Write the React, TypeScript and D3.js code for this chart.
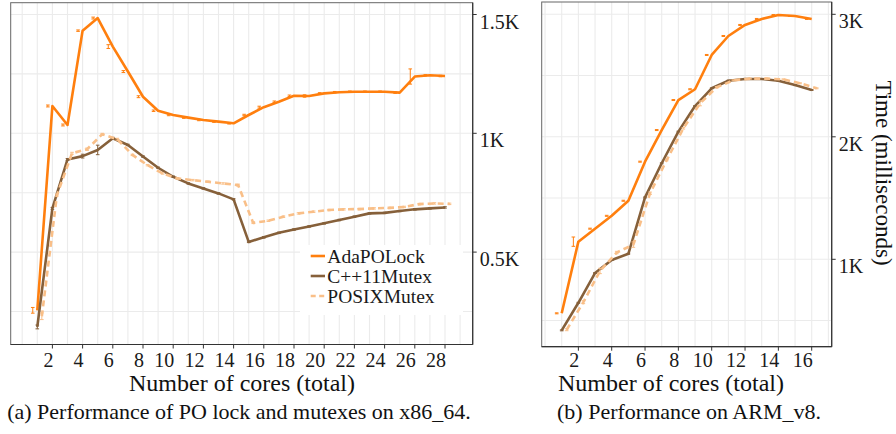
import React from "react";
import * as d3 from "d3";

// ---------- data ----------
const coresA = d3.range(1, 29); // 1..28
const adaA = [255, 1115, 1035, 1432, 1485, 1365, 1260, 1154, 1095, 1077, 1066, 1056, 1049, 1042, 1077, 1110, 1133, 1158, 1157, 1168, 1173, 1175, 1175, 1175, 1171, 1239, 1244, 1241];
const cppA = [185, 684, 890, 904, 930, 979, 951, 902, 855, 817, 789, 768, 747, 722, 543, 562, 581, 595, 608, 621, 635, 649, 663, 665, 673, 680, 684, 688];
const posixA = [230, 740, 916, 933, 996, 975, 909, 866, 831, 810, 803, 796, 789, 782, 623, 632, 649, 663, 670, 677, 680, 681, 684, 686, 690, 702, 705, 703];
const adaErrA = [12, 4, 4, 3, 4, 8, 4, 4, 3, 3, 3, 3, 3, 3, 3, 4, 3, 3, 5, 3, 3, 3, 3, 3, 3, 32, 3, 3];
const cppErrA = [8, 4, 4, 8, 20, 4, 3, 3, 3, 3, 3, 3, 3, 3, 3, 3, 3, 3, 3, 3, 3, 3, 3, 3, 3, 3, 3, 3];
const posixErrA = [14, 4, 4, 5, 4, 4, 3, 3, 3, 3, 3, 3, 3, 4, 3, 3, 3, 3, 3, 3, 3, 3, 3, 3, 3, 3, 3, 3];

const coresB = d3.range(1, 17); // 1..16
const adaB = [559, 1144, 1250, 1355, 1478, 1797, 2055, 2300, 2388, 2668, 2823, 2913, 2962, 2994, 2986, 2962];
const cppB = [420, 645, 888, 994, 1045, 1505, 1784, 2042, 2251, 2396, 2458, 2472, 2472, 2458, 2422, 2382];
const posixB = [425, 650, 905, 1055, 1120, 1539, 1810, 2069, 2273, 2404, 2461, 2475, 2475, 2469, 2437, 2396];
const adaErrB = [4, 38, 4, 4, 4, 4, 4, 4, 4, 4, 4, 4, 4, 4, 4, 4];
const cppErrB = [4, 4, 4, 4, 4, 4, 4, 4, 4, 4, 4, 4, 4, 4, 4, 4];
const posixErrB = [8, 12, 22, 10, 22, 10, 6, 6, 20, 6, 4, 4, 4, 4, 4, 4];

const xTicksA = d3.range(2, 29, 2);
const xTicksB = d3.range(2, 17, 2);
const yTicksA = [500, 1000, 1500];
const yTickLabelsA = ["0.5K", "1K", "1.5K"];
const yTicksB = [1000, 2000, 3000];
const yTickLabelsB = ["1K", "2K", "3K"];
const yGridA = [250, 500, 750, 1000, 1250, 1500];
const yGridB = [500, 1000, 1500, 2000, 2500, 3000];

const seriesNames = ["AdaPOLock", "C++11Mutex", "POSIXMutex"];
const colors = ["#FF7F0E", "#86603A", "#F9BF88"];

const xTitle = "Number of cores (total)";
const yTitle = "Time (milliseconds)";
const captionA = "(a) Performance of PO lock and mutexes on x86_64.";
const captionB = "(b) Performance on ARM_v8.";

const FONT = "Liberation Serif, DejaVu Serif, serif";
const tstyle = { fontFamily: FONT };

type PanelProps = {
  cores: number[];
  series: number[][];
  errs: number[][];
  xDomain: [number, number];
  xRange: [number, number];
  yDomain: [number, number];
  yRange: [number, number];
  frame: [number, number, number, number]; // left, right, top, bottom
  xTicks: number[];
  yTicks: number[];
  yLabels: string[];
  yGrid: number[];
  gridCores: number[];
};

function Panel(p: PanelProps) {
  const x = d3.scaleLinear().domain(p.xDomain).range(p.xRange);
  const y = d3.scaleLinear().domain(p.yDomain).range(p.yRange);
  const [x0, x1, yt, yb] = p.frame;
  const dodgeLine = [0, 0, 0.3];
  const dodgeErr = [-0.3, 0, 0.3];
  const dashes = [undefined, undefined, "6,4"];
  return (
    <g>
      {p.gridCores.map((c) => (
        <line key={"gx" + c} x1={x(c)} x2={x(c)} y1={yt} y2={yb} stroke="#EBEBEB" strokeWidth={1.1} />
      ))}
      {p.yGrid.map((v) => (
        <line key={"gy" + v} x1={x0} x2={x1} y1={y(v)} y2={y(v)} stroke="#EBEBEB" strokeWidth={1.1} />
      ))}
      {p.series.map((vals, si) => {
        const line = d3
          .line<number>()
          .x((_, i) => x(p.cores[i] + dodgeLine[si]))
          .y((d) => y(d));
        return (
          <g key={"s" + si}>
            <path d={line(vals) || ""} fill="none" stroke={colors[si]} strokeWidth={2.6}
              strokeDasharray={dashes[si]} strokeLinejoin="round" />
            {vals.map((v, i) => {
              const cx = x(p.cores[i] + dodgeErr[si]);
              const e = p.errs[si][i];
              return (
                <g key={"e" + i} stroke={colors[si]} strokeWidth={1}>
                  <line x1={cx} x2={cx} y1={y(v - e)} y2={y(v + e)} />
                  <line x1={cx - 1.8} x2={cx + 1.8} y1={y(v - e)} y2={y(v - e)} />
                  <line x1={cx - 1.8} x2={cx + 1.8} y1={y(v + e)} y2={y(v + e)} />
                </g>
              );
            })}
          </g>
        );
      })}
      <rect x={x0} y={yt} width={x1 - x0} height={yb - yt} fill="none" stroke="#666" strokeWidth={1} />
      <line x1={x0} x2={x1} y1={yb} y2={yb} stroke="#333" strokeWidth={1.2} />
      <line x1={x1} x2={x1} y1={yt} y2={yb} stroke="#333" strokeWidth={1.2} />
      {p.xTicks.map((t) => (
        <g key={"xt" + t}>
          <line x1={x(t)} x2={x(t)} y1={yb} y2={yb + 4} stroke="#333" strokeWidth={1} />
          <text x={x(t) + 1} y={367} textAnchor="end" style={tstyle} fontSize={20} fill="#1a1a1a">
            {t}
          </text>
        </g>
      ))}
      {p.yTicks.map((t, i) => (
        <g key={"yt" + t}>
          <line x1={x1} x2={x1 + 4} y1={y(t)} y2={y(t)} stroke="#333" strokeWidth={1} />
          <text x={x1 + 7} y={y(t) + 14} style={tstyle} fontSize={20} fill="#1a1a1a">
            {p.yLabels[i]}
          </text>
        </g>
      ))}
    </g>
  );
}

export default function App() {
  const legendX = 300;
  const legendY = 245;
  return (
    <svg width={896} height={434} style={{ position: "absolute", left: 0, top: 0, background: "#fff" }}>
      <rect width={896} height={434} fill="#fff" />
      <Panel
        cores={coresA}
        series={[adaA, cppA, posixA]}
        errs={[adaErrA, cppErrA, posixErrA]}
        xDomain={[1, 28]}
        xRange={[37.3, 445]}
        yDomain={[1000, 1500]}
        yRange={[133.3, 14.5]}
        frame={[10.7, 472.7, 2.7, 344.5]}
        xTicks={xTicksA}
        yTicks={yTicksA}
        yLabels={yTickLabelsA}
        yGrid={yGridA}
        gridCores={d3.range(0, 30)}
      />
      <Panel
        cores={coresB}
        series={[adaB, cppB, posixB]}
        errs={[adaErrB, cppErrB, posixErrB]}
        xDomain={[1, 16]}
        xRange={[561.7, 811.7]}
        yDomain={[1000, 3000]}
        yRange={[259.3, 14.3]}
        frame={[541.7, 831.7, 2, 346.7]}
        xTicks={xTicksB}
        yTicks={yTicksB}
        yLabels={yTickLabelsB}
        yGrid={yGridB}
        gridCores={d3.range(0, 18)}
      />
      {/* legend */}
      <g>
        <rect x={legendX} y={legendY} width={163} height={70} fill="#fff" />
        {seriesNames.map((n, i) => (
          <g key={n}>
            <line x1={legendX + 10.7} x2={legendX + 25} y1={legendY + 11 + i * 20} y2={legendY + 11 + i * 20}
              stroke={colors[i]} strokeWidth={2.6} strokeDasharray={i === 2 ? "5,3.5" : undefined} />
            <text x={legendX + 27.3} y={legendY + 17.5 + i * 20} style={tstyle} fontSize={19.5} fill="#1a1a1a">
              {n}
            </text>
          </g>
        ))}
      </g>
      <text x={242} y={391} textAnchor="middle" style={tstyle} fontSize={24} fill="#111">{xTitle}</text>
      <text x={671} y={391} textAnchor="middle" style={tstyle} fontSize={24} fill="#111">{xTitle}</text>
      <text transform="translate(876,173) rotate(90)" textAnchor="middle" style={tstyle} fontSize={23} fill="#111">
        {yTitle}
      </text>
      <text x={239} y={419} textAnchor="middle" style={tstyle} fontSize={22} fill="#111">{captionA}</text>
      <text x={689} y={419} textAnchor="middle" style={tstyle} fontSize={22} fill="#111">{captionB}</text>
    </svg>
  );
}
